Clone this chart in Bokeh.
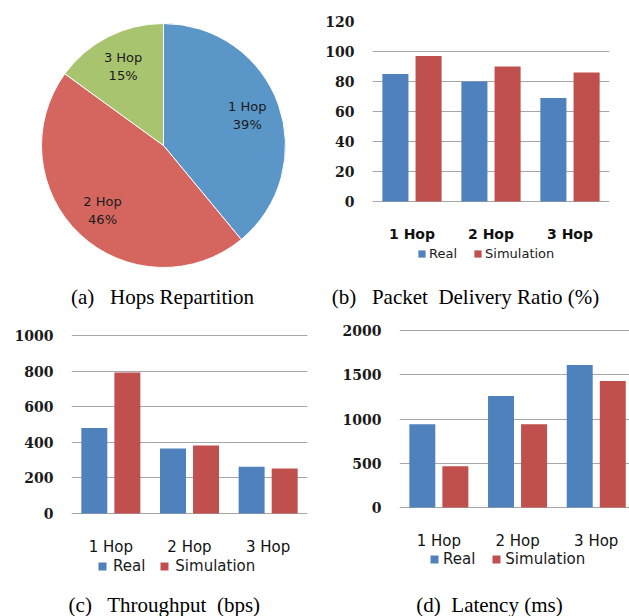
import numpy as np
from bokeh.plotting import figure
from bokeh.layouts import column, row
from bokeh.models import Range1d, FixedTicker, Legend, LegendItem
from bokeh.embed import file_html
from bokeh.resources import INLINE
from bokeh.core.properties import value

# ---------------- data ----------------
hops = ["1 Hop", "2 Hop", "3 Hop"]
series = ["Real", "Simulation"]
pie_share = [39, 46, 15]
pdr_real = [85, 80, 69]
pdr_sim = [97, 90, 86]
thr_real = [480, 365, 262]
thr_sim = [792, 382, 253]
lat_real = [940, 1260, 1610]
lat_sim = [465, 940, 1430]
pdr_ticks = [0, 20, 40, 60, 80, 100, 120]
thr_ticks = [0, 200, 400, 600, 800, 1000]
lat_ticks = [0, 500, 1000, 1500, 2000]
captions_top = ["(a)\u00a0\u00a0 Hops Repartition", "(b)\u00a0\u00a0 Packet\u00a0 Delivery Ratio (%)"]
captions_bottom = ["(c)\u00a0\u00a0 Throughput\u00a0 (bps)", "(d)\u00a0 Latency (ms)"]

PIE_COLORS = ["#5B96C8", "#D4665F", "#A9C46F"]
BAR_COLORS = ["#4F81BD", "#C0504D"]
GRID = "#A6A6A6"
TXT = "#1a1a1a"


def bare(w, h, xr, yr, bt=0, bb=0):
    p = figure(width=w, height=h, x_range=Range1d(0, xr), y_range=Range1d(0, yr),
               x_axis_type=None, y_axis_type=None, output_backend="svg",
               toolbar_location=None, min_border_left=0, min_border_right=0,
               min_border_top=bt, min_border_bottom=bb)
    p.grid.grid_line_color = None
    p.outline_line_color = None
    p.background_fill_color = "white"
    p.border_fill_color = "white"
    return p


# ---------------- pie (a) ----------------
# frame: page y 21..270, x 0..320 ; data y = 270 - page y
pa = bare(320, 284, 320, 249, bt=21, bb=14)
cx, cy, R = 163, 125, 122
frac = np.array(pie_share) / sum(pie_share)
cum = np.cumsum(frac)
start = np.pi / 2 - 2 * np.pi * (cum - frac)
end = np.pi / 2 - 2 * np.pi * cum
pa.wedge(x=cx, y=cy, radius=R, start_angle=start, end_angle=end, direction="clock",
         fill_color=PIE_COLORS, line_color="white", line_width=1)
mid = (start + end) / 2
lx = cx + 0.73 * R * np.cos(mid)
ly = cy + 0.73 * R * np.sin(mid)
pct = [f"{s}%" for s in pie_share]
pa.text(x=lx, y=ly + 9, text=hops, text_font=value("DejaVu Sans"), text_font_size="13px",
        text_color=TXT, text_align="center", text_baseline="middle")
pa.text(x=lx, y=ly - 9, text=pct, text_font=value("DejaVu Sans"), text_font_size="13px",
        text_color=TXT, text_align="center", text_baseline="middle")


# ---------------- bar panels ----------------
def bar_panel(real, sim, ticks, w, h, bl, br, bt, bb, fig_top, tick_px, base_px,
              xend, cat_px, cat_size, cat_style, leg_size, leg_glyph,
              leg_xy, leg_spacing, leg_standoff):
    frame_top = fig_top + bt
    frame_bot = fig_top + h - bb
    scale = (base_px - tick_px) / ticks[-1]
    hi = ticks[-1] + (tick_px - frame_top) / scale
    lo = -(frame_bot - base_px) / scale
    p = figure(width=w, height=h, x_range=Range1d(0.5, xend), y_range=Range1d(lo, hi),
               x_axis_type=None, output_backend="svg", toolbar_location=None,
               min_border_left=bl, min_border_right=br, min_border_top=bt, min_border_bottom=bb)
    p.outline_line_color = None
    p.background_fill_color = "white"
    p.border_fill_color = "white"
    idx = np.arange(1, len(hops) + 1)
    r1 = p.vbar(x=idx - 0.21, top=real, width=0.33, fill_color=BAR_COLORS[0], line_color=None)
    r2 = p.vbar(x=idx + 0.21, top=sim, width=0.33, fill_color=BAR_COLORS[1], line_color=None)
    p.ygrid.ticker = FixedTicker(ticks=ticks)
    p.ygrid.grid_line_color = GRID
    p.yaxis.ticker = FixedTicker(ticks=ticks)
    p.yaxis.axis_line_color = None
    p.yaxis.major_tick_line_color = None
    p.yaxis.minor_tick_line_color = None
    p.yaxis.major_tick_out = 0
    p.yaxis.major_tick_in = 0
    p.yaxis.major_label_standoff = 18
    p.yaxis.major_label_text_font = "DejaVu Serif"
    p.yaxis.major_label_text_font_style = "bold"
    p.yaxis.major_label_text_font_size = "14px"
    p.yaxis.major_label_text_color = TXT
    # category labels under each group (below the zero line)
    ycat = (base_px - cat_px) / scale
    p.text(x=idx, y=[ycat] * len(hops), text=hops, text_font=value("DejaVu Sans"),
           text_font_size=cat_size, text_font_style=cat_style, text_color="#111111",
           text_align="center", text_baseline="middle")
    legend = Legend(items=[LegendItem(label=series[0], renderers=[r1]),
                           LegendItem(label=series[1], renderers=[r2])],
                    orientation="horizontal", location=leg_xy,
                    glyph_width=leg_glyph, glyph_height=leg_glyph, label_height=15,
                    label_text_font="DejaVu Sans", label_text_font_size=leg_size,
                    label_text_color=TXT, label_standoff=leg_standoff,
                    spacing=leg_spacing, padding=0, margin=0,
                    border_line_color=None, background_fill_alpha=0)
    p.add_layout(legend, "center")
    return p


# (b): frame page x 372..609, y 21..270
pb = bar_panel(pdr_real, pdr_sim, pdr_ticks, 309, 284, 52, 20, 21, 14, 0, 21, 201,
               3.5, 233, "14px", "bold", "13px", 9, (45, 9.5), 16, 3)
# (c): frame page x 71..307, y 325..580
pc = bar_panel(thr_real, thr_sim, thr_ticks, 320, 280, 71, 13, 15, 10, 310, 335, 513,
               3.5, 546, "15px", "normal", "15px", 10, (26, 5.5), 14, 6)
# (d): frame page x 399..629, y 325..580
pd = bar_panel(lat_real, lat_sim, lat_ticks, 309, 280, 79, 0, 15, 10, 310, 330, 507,
               0.5 + 230 / 78.7, 540, "15px", "normal", "15px", 10, (30, 12.5), 16, 4)

# ---------------- captions ----------------
cap1 = bare(629, 26, 629, 26)
cap1.text(x=[162, 465], y=[13.5, 13.5], text=captions_top, text_font=value("Liberation Serif"),
          text_font_size="21px", text_color="#000000", text_align="center", text_baseline="middle")
cap2 = bare(629, 26, 629, 26)
cap2.text(x=[164, 489], y=[12, 12], text=captions_bottom, text_font=value("Liberation Serif"),
          text_font_size="21px", text_color="#000000", text_align="center", text_baseline="middle")

layout = column(row(pa, pb), cap1, row(pc, pd), cap2)
open("out.html", "w").write(file_html(layout, INLINE))
